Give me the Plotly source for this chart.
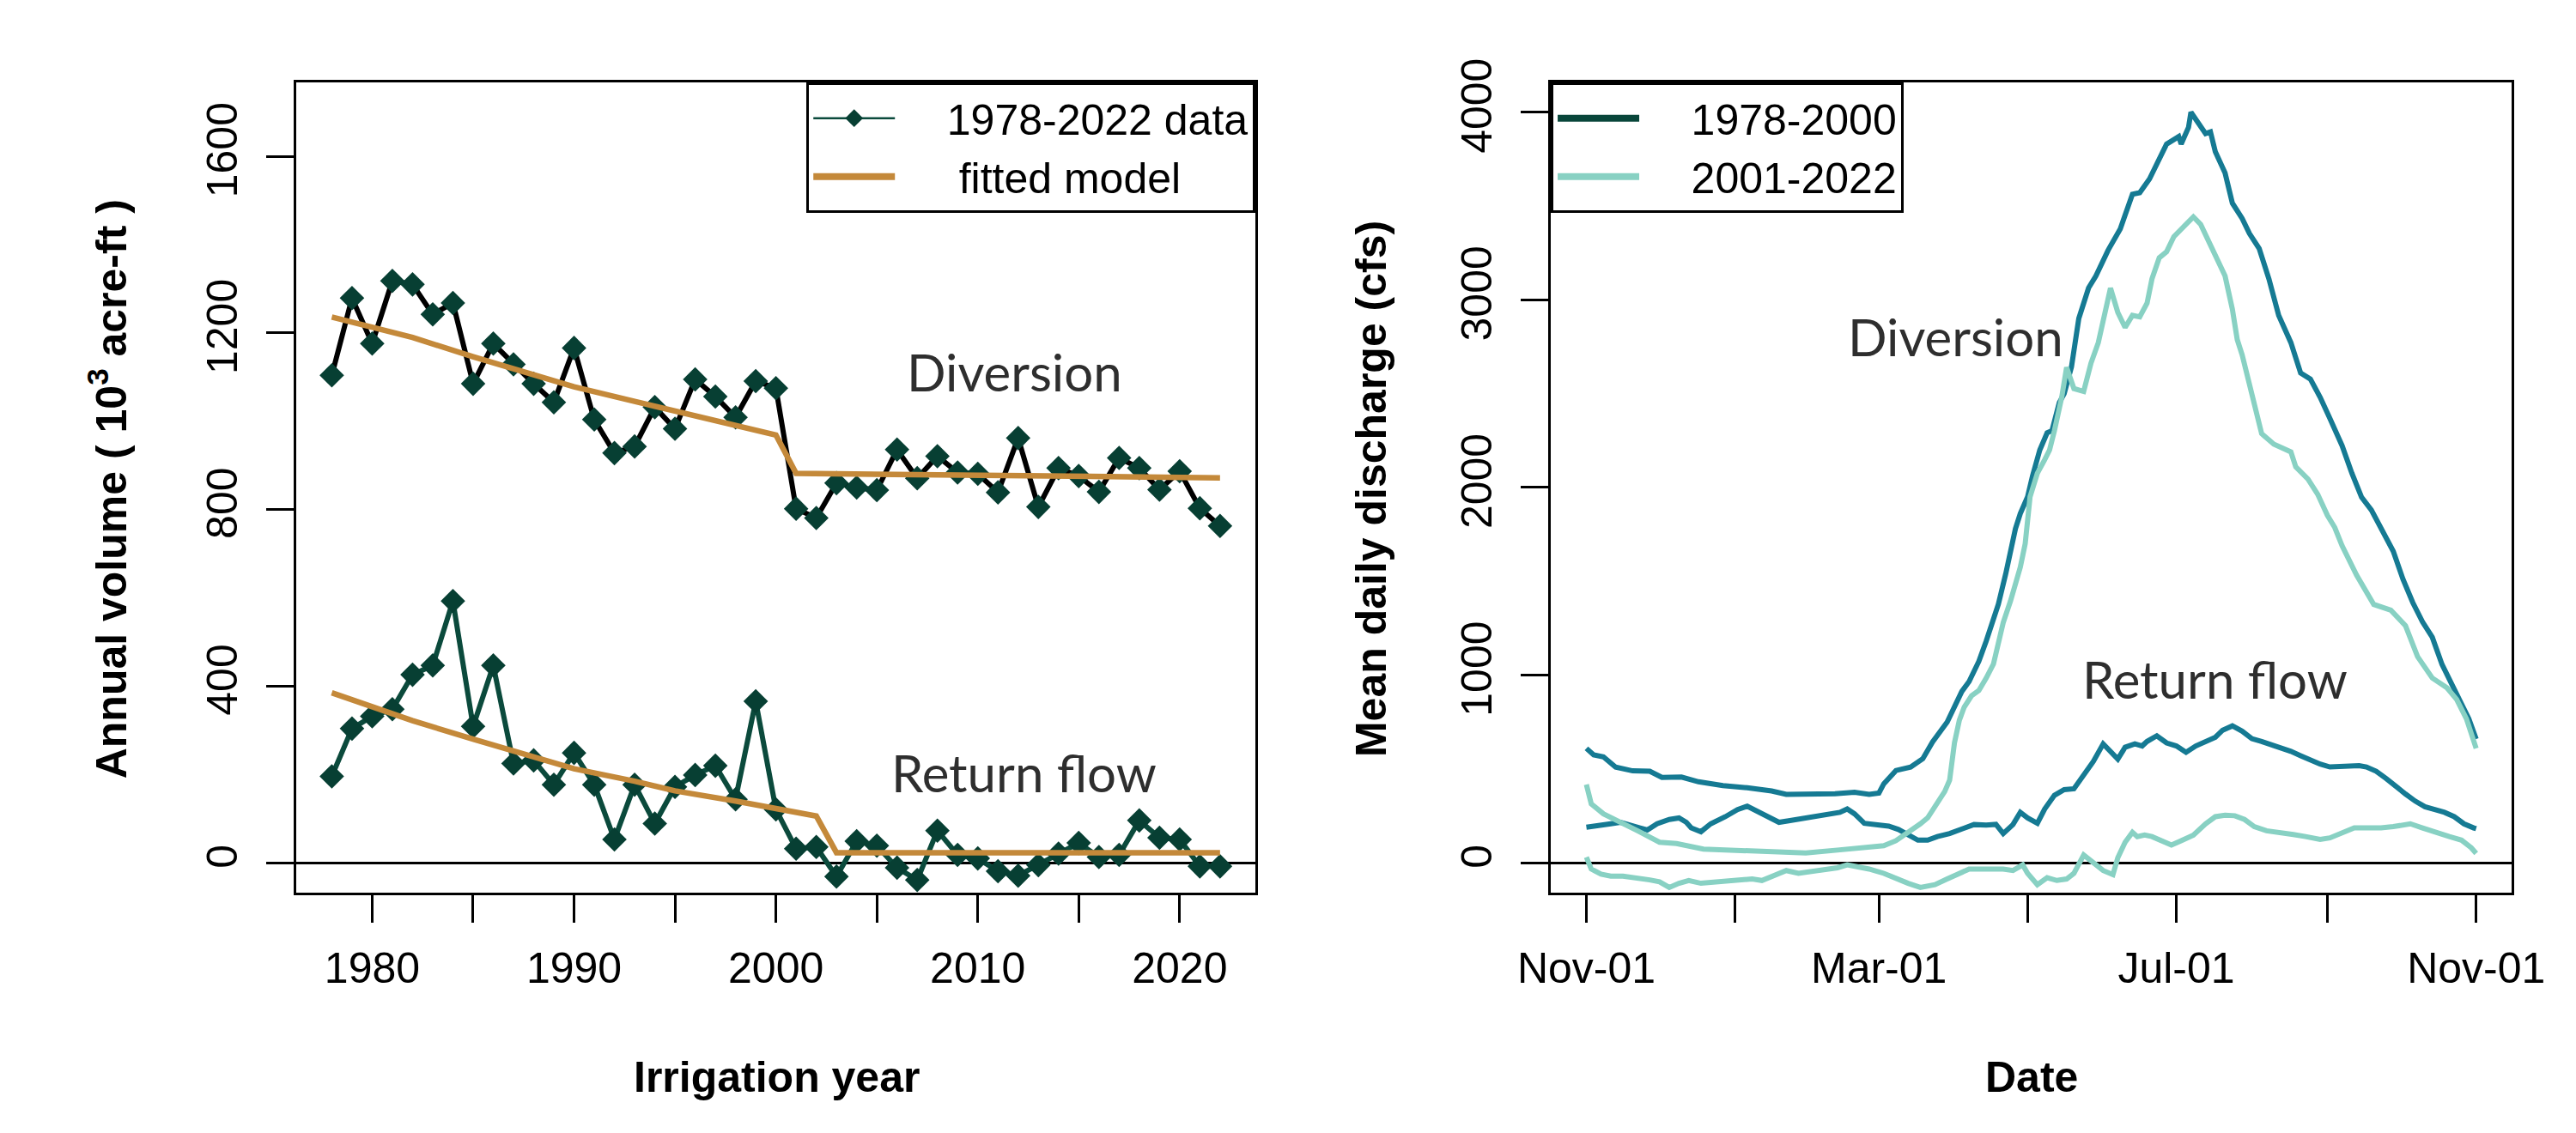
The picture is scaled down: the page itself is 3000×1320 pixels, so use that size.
import plotly.graph_objects as go
import pandas as pd

# ---------------- Left panel data (10^3 acre-ft) ----------------
years = list(range(1978, 2023))
diversion = [1104, 1279, 1176, 1318, 1310, 1242, 1268, 1085, 1176, 1129,
             1085, 1043, 1166, 1004, 928, 943, 1032, 983, 1095, 1056,
             1009, 1091, 1075, 802, 781, 860, 850, 844, 936, 871,
             921, 884, 881, 839, 962, 806, 894, 876, 840, 917,
             894, 845, 887, 803, 763]
return_flow = [196, 304, 332, 348, 426, 447, 593, 309, 447, 225,
               232, 177, 249, 177, 53, 177, 89, 172, 199, 220,
               144, 366, 121, 32, 36, -31, 49, 39, -11, -39,
               73, 18, 10, -19, -29, -5, 21, 45, 13, 18,
               96, 57, 53, -8, -8]
fit_div_years = [1978, 1980, 1982, 1985, 1988, 1990, 1993, 1995, 1998, 2000, 2001, 2022]
fit_div = [1236, 1212, 1190, 1146, 1106, 1078, 1045, 1024, 992, 969, 882, 872]
fit_ret_years = [1978, 1980, 1982, 1985, 1988, 1990, 1993, 1995, 1998, 2000, 2002, 2003, 2022]
fit_ret = [385, 352, 322, 280, 240, 213, 185, 163, 140, 124, 106, 23, 23]

# ---------------- Right panel data (cfs), day offset from Nov-01 ----------------
div_early_days = [0, 3, 7, 12, 19, 26, 31, 39, 46, 56, 66, 76, 82, 92, 102, 110, 116, 120, 122, 127,
                  133, 138, 142, 148, 154, 157, 161, 164, 166, 169, 172, 176, 178, 181, 183, 186, 189, 191, 194, 196,
                  199, 202, 206, 209, 214, 219, 224, 227, 231, 238, 243, 244, 247, 248, 254, 256, 258, 262, 265, 269,
                  272, 276, 280, 284, 289, 293, 297, 301, 305, 310, 314, 318, 322, 326, 331, 335, 339, 343, 347, 351,
                  355, 359, 362, 365]
div_early = [610, 575, 565, 510, 490, 488, 455, 457, 432, 412, 400, 383, 365, 365, 368, 376, 365, 372, 421, 492,
             510, 555, 644, 750, 913, 966, 1074, 1181, 1253, 1378, 1539, 1780, 1861, 1951, 2061, 2200, 2291, 2303, 2452, 2500,
             2643, 2901, 3063, 3127, 3264, 3378, 3563, 3571, 3644, 3830, 3870, 3830, 3919, 4000, 3886, 3895, 3789, 3676, 3515, 3434,
             3353, 3273, 3111, 2917, 2772, 2610, 2578, 2481, 2368, 2223, 2077, 1948, 1880, 1787, 1660, 1511, 1387, 1284, 1202, 1057,
             954, 850, 768, 660]

div_late_days = [0, 2, 7, 13, 21, 30, 37, 48, 63, 79, 90, 103, 116, 122, 127, 132, 137, 140, 143, 147,
                 149, 151, 153, 155, 158, 161, 164, 167, 171, 174, 178, 180, 182, 185, 188, 190, 192, 195, 197, 200,
                 204, 207, 210, 213, 215, 218, 221, 224, 227, 230, 232, 235, 238, 241, 245, 249, 252, 255, 258, 262,
                 265, 267, 269, 272, 275, 277, 282, 286, 289, 291, 296, 300, 304, 307, 310, 316, 323, 330, 336, 341,
                 347, 353, 357, 361, 365]
div_late = [417, 314, 261, 224, 171, 110, 103, 73, 65, 57, 53, 68, 82, 91, 118, 160, 208, 240, 300, 380,
            440, 640, 760, 830, 890, 918, 984, 1060, 1280, 1396, 1575, 1700, 1950, 2076, 2148, 2200, 2303, 2481, 2640, 2527,
            2512, 2663, 2772, 2966, 3063, 2933, 2853, 2917, 2909, 2982, 3111, 3224, 3256, 3337, 3386, 3442, 3402, 3321, 3240, 3127,
            2950, 2788, 2707, 2546, 2384, 2287, 2231, 2207, 2190, 2110, 2045, 1964, 1851, 1787, 1690, 1532, 1377, 1346, 1264, 1098,
            985, 933, 871, 768, 610]

ret_early_days = [0, 5, 10, 14, 18, 22, 25, 29, 34, 38, 41, 43, 47, 51, 57, 62, 66, 70, 74, 79,
                  83, 90, 95, 100, 104, 107, 110, 114, 119, 124, 128, 132, 136, 140, 144, 149, 155, 159, 164, 168,
                  171, 175, 178, 181, 185, 188, 192, 196, 200, 204, 208, 212, 215, 218, 221, 225, 228, 230, 234, 238,
                  242, 246, 250, 254, 258, 261, 265, 269, 273, 277, 281, 285, 289, 293, 297, 301, 305, 309, 313, 317,
                  320, 324, 328, 332, 336, 340, 344, 348, 352, 356, 360, 364, 365]
ret_early = [190, 196, 208, 216, 204, 186, 175, 208, 231, 239, 216, 186, 166, 208, 246, 284, 302, 276, 246, 216,
             224, 239, 246, 254, 269, 287, 261, 211, 201, 196, 178, 148, 121, 121, 140, 156, 186, 204, 201, 205,
             156, 204, 269, 239, 211, 287, 360, 390, 395, 470, 541, 634, 593, 553, 616, 634, 623, 647, 677, 639,
             623, 589, 623, 647, 669, 707, 730, 702, 662, 647, 631, 609, 594, 571, 548, 526, 511, 514, 518, 518,
             511, 488, 450, 405, 367, 329, 299, 284, 269, 246, 208, 186, 182]

ret_late_days = [0, 2, 6, 10, 15, 21, 26, 30, 34, 38, 42, 47, 53, 58, 63, 68, 72, 76, 82, 87,
                 92, 98, 103, 107, 111, 116, 122, 127, 132, 137, 143, 148, 153, 157, 161, 167, 171, 175, 179, 181,
                 185, 189, 193, 197, 200, 204, 208, 212, 216, 218, 221, 224, 226, 229, 232, 236, 240, 244, 249, 254,
                 258, 262, 266, 270, 274, 279, 285, 290, 295, 301, 305, 310, 315, 320, 326, 331, 338, 343, 348, 354,
                 359, 363, 365]
ret_late = [30, -33, -60, -71, -71, -79, -91, -101, -131, -109, -94, -109, -101, -94, -86, -86, -94, -71, -41, -56,
            -48, -36, -26, -11, -18, -33, -56, -86, -109, -131, -116, -86, -56, -33, -33, -30, -33, -41, -11, -56,
            -116, -79, -94, -86, -56, 42, -3, -41, -63, 27, 110, 163, 140, 148, 140, 118, 95, 118, 148, 208,
            246, 254, 251, 231, 193, 171, 163, 151, 140, 125, 133, 163, 186, 186, 186, 193, 208, 186, 163, 140,
            121, 80, 50]

start = pd.Timestamp("2021-11-01")
def to_dates(days):
    return [start + pd.Timedelta(days=d) for d in days]

date_major_vals = ["2021-11-01", "2022-03-01", "2022-07-01", "2022-11-01"]
date_major_text = ["Nov-01", "Mar-01", "Jul-01", "Nov-01"]
date_minor_vals = ["2022-01-01", "2022-05-01", "2022-09-01"]

year_major_vals = [1980, 1990, 2000, 2010, 2020]
year_minor_vals = [1985, 1995, 2005, 2015]

# ---------------- Styles ----------------
FONT = "Liberation Sans, Arial, sans-serif"
LBLFONT = "Lato, Open Sans, sans-serif"
GREEN = "#073f33"
GREEN_LINE = "#0b4a3c"
GOLD = "#c4893a"
TEAL = "#157a93"
LIGHT = "#88d1c3"
DARK_LEG = "#08463a"
NB = "\u00a0"

fig = go.Figure()

# Left panel traces
fig.add_trace(go.Scatter(x=years, y=diversion, mode="lines+markers",
                         line=dict(color="black", width=6),
                         marker=dict(symbol="diamond", size=22, color=GREEN),
                         xaxis="x", yaxis="y", showlegend=False))
fig.add_trace(go.Scatter(x=years, y=return_flow, mode="lines+markers",
                         line=dict(color=GREEN_LINE, width=6),
                         marker=dict(symbol="diamond", size=22, color=GREEN),
                         xaxis="x", yaxis="y", showlegend=False))
fig.add_trace(go.Scatter(x=fit_div_years, y=fit_div, mode="lines",
                         line=dict(color=GOLD, width=6.5),
                         xaxis="x", yaxis="y", showlegend=False))
fig.add_trace(go.Scatter(x=fit_ret_years, y=fit_ret, mode="lines",
                         line=dict(color=GOLD, width=6.5),
                         xaxis="x", yaxis="y", showlegend=False))
# Left legend entries
fig.add_trace(go.Scatter(x=[None], y=[None], mode="lines+markers", name=NB * 4 + "1978-2022 data",
                         line=dict(color=GREEN_LINE, width=2.5),
                         marker=dict(symbol="diamond", size=20, color=GREEN),
                         xaxis="x", yaxis="y", legend="legend"))
fig.add_trace(go.Scatter(x=[None], y=[None], mode="lines", name=NB * 5 + "fitted model",
                         line=dict(color=GOLD, width=8),
                         xaxis="x", yaxis="y", legend="legend"))

# Right panel traces
fig.add_trace(go.Scatter(x=to_dates(div_early_days), y=div_early, mode="lines",
                         line=dict(color=TEAL, width=6), xaxis="x2", yaxis="y2", showlegend=False))
fig.add_trace(go.Scatter(x=to_dates(ret_early_days), y=ret_early, mode="lines",
                         line=dict(color=TEAL, width=6), xaxis="x2", yaxis="y2", showlegend=False))
fig.add_trace(go.Scatter(x=to_dates(div_late_days), y=div_late, mode="lines",
                         line=dict(color=LIGHT, width=6), xaxis="x2", yaxis="y2", showlegend=False))
fig.add_trace(go.Scatter(x=to_dates(ret_late_days), y=ret_late, mode="lines",
                         line=dict(color=LIGHT, width=6), xaxis="x2", yaxis="y2", showlegend=False))
fig.add_trace(go.Scatter(x=[None], y=[None], mode="lines", name=NB * 4 + "1978-2000",
                         line=dict(color=DARK_LEG, width=8), xaxis="x2", yaxis="y2", legend="legend2"))
fig.add_trace(go.Scatter(x=[None], y=[None], mode="lines", name=NB * 4 + "2001-2022",
                         line=dict(color=LIGHT, width=8), xaxis="x2", yaxis="y2", legend="legend2"))

W, H = 3000, 1320
ydom = [1 - 1026 / H, 1 - 61 / H]

common_axis = dict(showline=True, mirror=True, linecolor="black", linewidth=3,
                   ticks="outside", ticklen=32, tickwidth=3, tickcolor="black",
                   showgrid=False, tickfont=dict(family=FONT, size=50, color="black"))
minor_style = dict(ticks="outside", ticklen=32, tickwidth=3, tickcolor="black", showgrid=False)

legend_common = dict(bordercolor="black", borderwidth=3, bgcolor="white",
                     font=dict(family=FONT, size=50, color="black"),
                     itemwidth=95, tracegroupgap=0)

fig.update_layout(
    width=W, height=H,
    margin=dict(l=0, r=0, t=0, b=0),
    paper_bgcolor="white", plot_bgcolor="white",
    xaxis=dict(domain=[306 / W, 1453 / W], range=[1976.24, 2023.76],
               tickmode="array", tickvals=year_major_vals,
               minor=dict(tickmode="array", tickvals=year_minor_vals, **minor_style),
               zeroline=False, anchor="y", ticklabelstandoff=10, **common_axis),
    yaxis=dict(domain=ydom, range=[-68, 1768], tickmode="array", tickvals=[0, 400, 800, 1200, 1600],
               tickangle=-90, zeroline=True, zerolinecolor="black", zerolinewidth=3,
               anchor="x", ticklabelstandoff=14, **common_axis),
    xaxis2=dict(domain=[1806 / W, 2955 / W], type="date",
                range=[start - pd.Timedelta(days=14.6), start + pd.Timedelta(days=379.6)],
                tickmode="array", tickvals=date_major_vals, ticktext=date_major_text,
                minor=dict(tickmode="array", tickvals=date_minor_vals, **minor_style),
                zeroline=False, anchor="y2", ticklabelstandoff=10, **common_axis),
    yaxis2=dict(domain=ydom, range=[-160, 4160], tickmode="array", tickvals=[0, 1000, 2000, 3000, 4000],
                tickangle=-90, zeroline=True, zerolinecolor="black", zerolinewidth=3,
                anchor="x2", ticklabelstandoff=14, **common_axis),
    legend=dict(x=1453 / W, xanchor="right", y=ydom[1], yanchor="top", **legend_common),
    legend2=dict(x=1806 / W, xanchor="left", y=ydom[1], yanchor="top", **legend_common),
    annotations=[
        dict(text="<b>Annual volume ( 10<sup>3</sup> acre-ft )</b>", xref="paper", yref="paper",
             x=82 / W, y=1 - 545 / H, textangle=-90, showarrow=False,
             font=dict(family=FONT, size=50, color="black"), xanchor="center", yanchor="middle"),
        dict(text="<b>Irrigation year</b>", xref="paper", yref="paper",
             x=880 / W, y=1 - 1245 / H, showarrow=False,
             font=dict(family=FONT, size=50, color="black"), xanchor="center", yanchor="middle"),
        dict(text="<b>Mean daily discharge (cfs)</b>", xref="paper", yref="paper",
             x=1592 / W, y=1 - 545 / H, textangle=-90, showarrow=False,
             font=dict(family=FONT, size=50, color="black"), xanchor="center", yanchor="middle"),
        dict(text="<b>Date</b>", xref="paper", yref="paper",
             x=2381 / W, y=1 - 1245 / H, showarrow=False,
             font=dict(family=FONT, size=50, color="black"), xanchor="center", yanchor="middle"),
        dict(text="Diversion", xref="x", yref="y", x=2011.8, y=1113, showarrow=False,
             font=dict(family=LBLFONT, size=60, color="#2e2e2e"), xanchor="center", yanchor="middle"),
        dict(text="Return flow", xref="x", yref="y", x=2012.3, y=205, showarrow=False,
             font=dict(family=LBLFONT, size=60, color="#2e2e2e"), xanchor="center", yanchor="middle"),
        dict(text="Diversion", xref="x2", yref="y2", x=start + pd.Timedelta(days=151.4), y=2805,
             showarrow=False, font=dict(family=LBLFONT, size=60, color="#2e2e2e"),
             xanchor="center", yanchor="middle"),
        dict(text="Return flow", xref="x2", yref="y2", x=start + pd.Timedelta(days=258), y=979,
             showarrow=False, font=dict(family=LBLFONT, size=60, color="#2e2e2e"),
             xanchor="center", yanchor="middle"),
    ],
)

fig.write_html("out.html")
